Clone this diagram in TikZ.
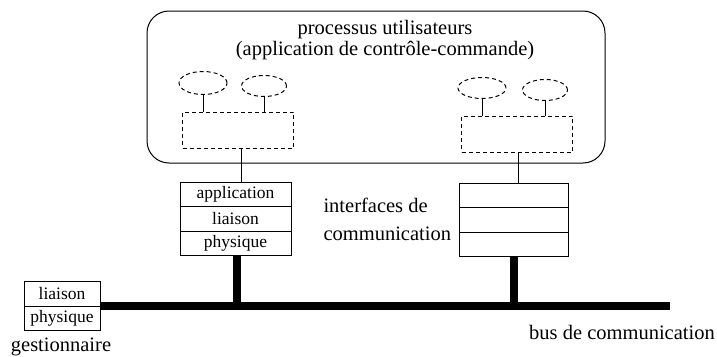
\documentclass[tikz,border=0pt]{standalone}
\usepackage{fontspec}
\setmainfont{Liberation Serif}
\usetikzlibrary{positioning,shapes.geometric}
\tikzset{
    %Define standard styles
    couche/.style={
      rectangle,
      draw=black, line width=1pt,
      minimum width=111pt,
      minimum height=24.5pt,
      inner sep=0pt, outer sep=0pt,
      font=\fontsize{17.5}{18}\selectfont},
    tache/.style={
      ellipse,
      draw=black, line width=1pt,
      dash pattern=on 4pt off 3pt,
      minimum width=48pt,
      minimum height=23pt},
    module/.style={
      rectangle,
      draw=black, line width=1pt,
      dash pattern=on 4pt off 3pt,
      minimum width=111pt,
      minimum height=36pt},
    texte/.style={
      inner sep=0pt,
      font=\fontsize{20.5}{21}\selectfont},
    bus/.style={line width=8pt},
}
\begin{document}
\begin{tikzpicture}[x=1pt, y=-1pt, line width=1pt]
    \useasboundingbox (0,0) rectangle (717,356);
    % processus utilisateurs
    \node (procs) [draw, rounded corners=22pt,
          minimum width=458pt, minimum height=152pt] at (376,87) {};
    \node (titre) [texte, align=center] at (385,40)
          {processus utilisateurs\\(application de contr\^ole-commande)};
    \node (modA) [module] at (238,130) {};
    \node (modB) [module] at (517,134) {};
    \node (tA1) [tache] at (203,83) {};
    \node (tA2) [tache, minimum width=45pt, minimum height=21pt] at (264,86) {};
    \node (tB1) [tache, minimum height=21pt] at (482,88) {};
    \node (tB2) [tache, minimum width=45pt, minimum height=21pt] at (545,90) {};
    \foreach \t/\m in {tA1/modA, tA2/modA, tB1/modB, tB2/modB}
      \draw (\t.south) -- (\t.south |- \m.north);
    % interfaces
    \node (appA) [couche] at (235.5,194.5) {application};
    \node (liA) [couche, below=0pt of appA] {liaison};
    \node (phA) [couche, below=0pt of liA] {physique};
    \node (appB) [couche, minimum width=109pt] at (513.5,195.5) {};
    \node (liB) [couche, minimum width=109pt, below=0pt of appB] {};
    \node (phB) [couche, minimum width=109pt, below=0pt of liB] {};
    \draw ([xshift=3pt]modA.south) -- ([xshift=3pt]modA.south |- appA.north);
    \draw ([xshift=1pt]modB.south) -- ([xshift=1pt]modB.south |- appB.north);
    \node (interf) [texte, align=left, anchor=north west,
          font=\fontsize{20.5}{28}\selectfont] at (323,198)
          {interfaces de\\communication};
    % gestionnaire
    \node (gli) [couche, minimum width=76pt] at (62,293.75) {liaison};
    \node (gph) [couche, minimum width=76pt, below=0pt of gli] {physique};
    \node (gest) [texte] at (61,347) {gestionnaire};
    % bus
    \coordinate (busE) at (670,306);
    \draw [bus] (gli.south east) -- (busE);
    \draw [bus] ([xshift=1.5pt]phA.south) -- ([xshift=1.5pt]phA.south |- busE);
    \draw [bus] (phB.south) -- (phB.south |- busE);
    \node (buslab) [texte] at (622,332) {bus de communication};
\end{tikzpicture}
\end{document}
